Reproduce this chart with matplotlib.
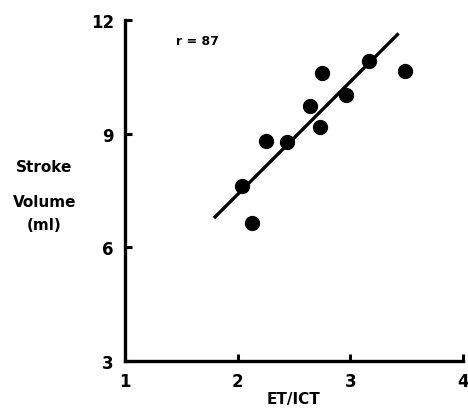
import matplotlib
matplotlib.use("Agg")
import matplotlib.pyplot as plt
import numpy as np

# == Data == #
et_ict = [2.04, 2.13, 2.25, 2.44, 2.64, 2.73, 2.75, 2.96, 3.17, 3.49]
stroke_vol = [7.63, 6.64, 8.82, 8.79, 9.74, 9.17, 10.60, 10.03, 10.93, 10.65]
fit_x = [1.79, 3.43]
fit_y = [6.77, 11.65]
xticks = [1, 2, 3, 4]
yticks = [3, 6, 9, 12]

plt.rcParams['font.family'] = ['DejaVu Sans']

fig = plt.figure(figsize=(4.68, 4.14), dpi=100)
ax = fig.add_axes([0.267, 0.126, 0.722, 0.823])

ax.plot(fit_x, fit_y, color='black', lw=2.4, solid_capstyle='butt')
ax.scatter(et_ict, stroke_vol, s=100, color='black', zorder=3)

ax.set_xlim(1, 4)
ax.set_ylim(3, 12)
ax.set_xticks(xticks)
ax.set_yticks(yticks)
for s in ['top', 'right']:
    ax.spines[s].set_visible(False)
for s in ['left', 'bottom']:
    ax.spines[s].set_linewidth(2.4)
ax.tick_params(direction='in', length=5, width=2.2, labelsize=12, pad=8)
for lab in ax.get_xticklabels() + ax.get_yticklabels():
    lab.set_fontweight('bold')

ax.text(0.15, 0.94, 'r = 87', transform=ax.transAxes, fontsize=9,
        fontweight='bold', va='center', ha='left')

ax.set_xlabel('ET/ICT', fontsize=11, fontweight='bold', labelpad=1)
fig.text(0.095, 0.596, 'Stroke', fontsize=11, fontweight='bold', ha='center', va='center')
fig.text(0.095, 0.512, 'Volume', fontsize=11, fontweight='bold', ha='center', va='center')
fig.text(0.095, 0.455, '(ml)', fontsize=11, fontweight='bold', ha='center', va='center')

fig.savefig('out.png', dpi=100)
